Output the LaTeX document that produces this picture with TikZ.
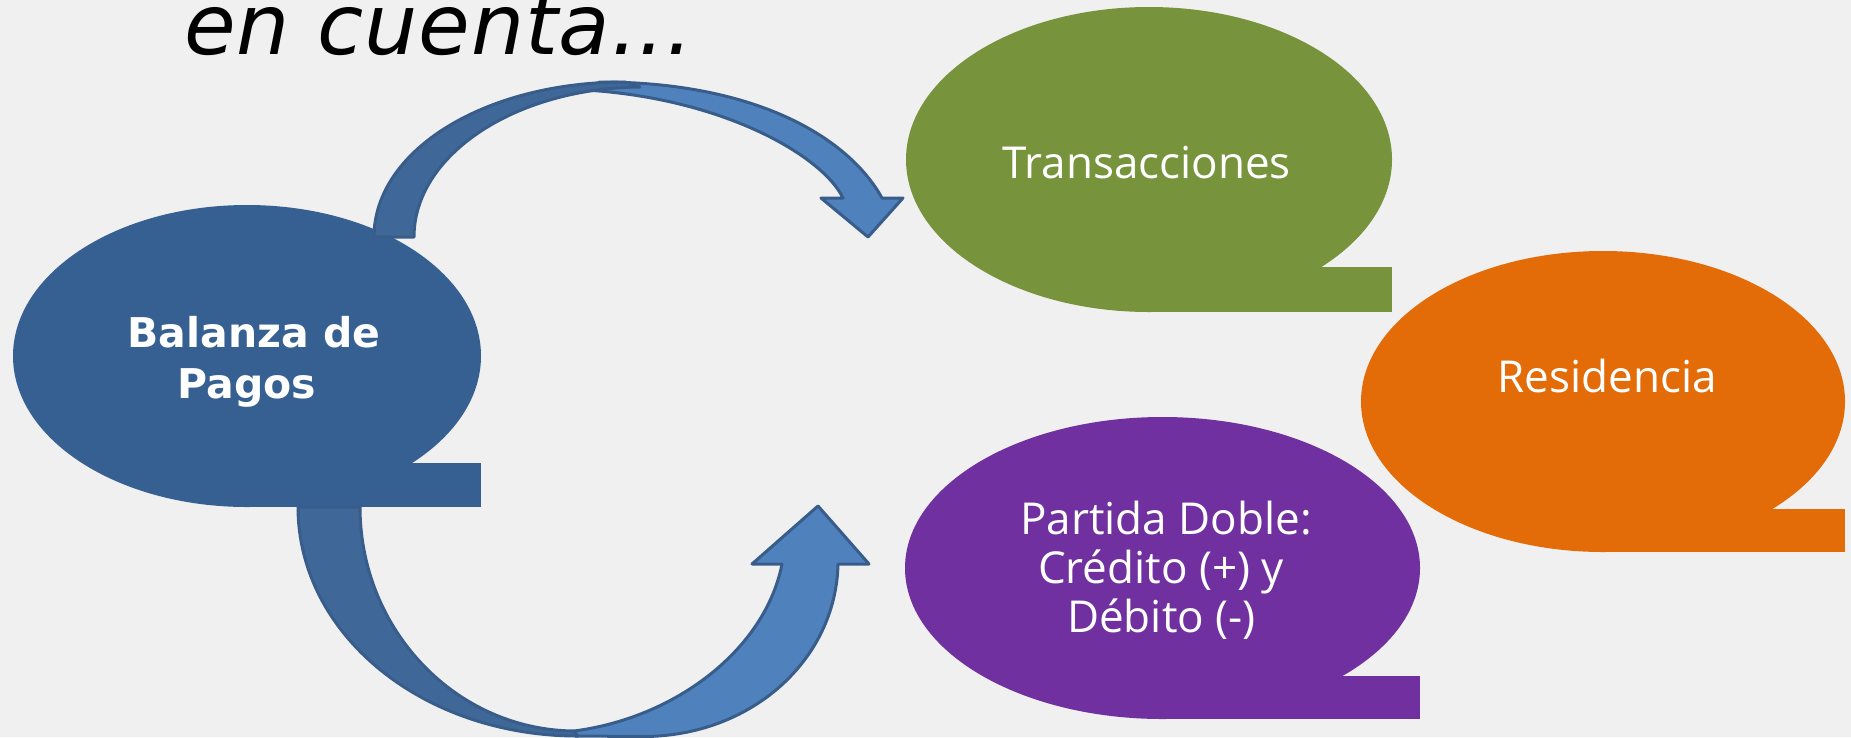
\documentclass[tikz,border=0pt]{standalone}
\usepackage{fontspec}
\usepackage{graphicx}
\setmainfont{Open Sans}
\newfontfamily\dejavu{DejaVu Sans}
\newfontfamily\titlefont[LetterSpace=1]{DejaVu Sans}
\definecolor{balblue}{RGB}{55,96,146}
\definecolor{trgreen}{RGB}{119,147,60}
\definecolor{resorange}{RGB}{227,108,9}
\definecolor{parpurple}{RGB}{112,48,160}
\definecolor{arrfront}{RGB}{79,129,189}
\definecolor{arrback}{RGB}{63,104,153}
\definecolor{arrline}{RGB}{56,93,138}
\definecolor{bgcol}{RGB}{240,240,240}
\begin{document}
\begin{tikzpicture}[x=1pt,y=-1pt,
  bubtext/.style={text=white, inner sep=0pt, anchor=base, font=\fontsize{44}{50}\selectfont},
  baltext/.style={text=white, inner sep=0pt, anchor=base, font=\dejavu\bfseries\fontsize{41}{51}\selectfont},
  arrowband/.style={draw=arrline, line width=3pt, line join=round}]
\useasboundingbox (0,0) rectangle (1851,737);
\fill[bgcol] (0,0) rectangle (1851,737);
% title (cut by the top edge, as in the reference)
\begin{scope}
\clip (0,0) rectangle (1851,737);
\node[anchor=base west, inner sep=0pt, font=\titlefont\itshape\fontsize{84}{90}\selectfont] (title) at (184,54) {en cuenta...};
\end{scope}
% Balanza de Pagos
\fill[balblue] (247,356) ellipse [x radius=234, y radius=151];
\fill[balblue] (247,463) rectangle (481,507);
\node[baltext] (bal1) at (254,347) {Balanza de};
\node[baltext] (bal2) at (247,398) {Pagos};
% Transacciones
\fill[trgreen] (1149,159.5) ellipse [x radius=243, y radius=152.5];
\fill[trgreen] (1149,267) rectangle (1392,312);
\node[bubtext] (trans) at (1146.5,178) {Transacciones};
% Residencia
\fill[resorange] (1603,401.5) ellipse [x radius=242, y radius=150.5];
\fill[resorange] (1603,509) rectangle (1845,552);
\node[bubtext] (resid) at (1607,392) {Residencia};
% Partida Doble
\fill[parpurple] (1162.5,568) ellipse [x radius=257.5, y radius=151];
\fill[parpurple] (1162.5,676) rectangle (1420,719);
\node[bubtext] (par1) at (1166,534) {Partida Doble:};
\node[bubtext] (par2) at (1161,583) {Crédito (+) y};
\node[bubtext] (par3) at (1161.5,632) {Débito (-)};
% top curved arrow
\coordinate (ta0) at (374,237);
\coordinate (ta1) at (414,237);
\path[arrowband, fill=arrfront] (585,90) -- (600,82) .. controls (760,82) and (850,140) .. (882,198) -- (903,198) -- (868,237) -- (821,198) -- (843,198) .. controls (822,155) and (722,98) .. (585,90) -- cycle;
\path[arrowband, fill=arrback] (ta0) .. controls (374,151) and (484,82) .. (625,82) -- (640,87) .. controls (515,88) and (414,155) .. (ta1) -- cycle;
% bottom curved arrow
\coordinate (ba0) at (298,507);
\coordinate (ba1) at (360,507);
\path[arrowband, fill=arrfront] (574,731) -- (575,736) -- (643,736.5) .. controls (751,736.5) and (836,660) .. (838,564) -- (869,564) -- (818,506) -- (752,564) -- (782,564) .. controls (765,650) and (675,718) .. (574,731) -- cycle;
\path[arrowband, fill=arrback] (ba0) .. controls (298,634) and (422,736) .. (578,736) -- (574,731) .. controls (456,730) and (360,630) .. (ba1) -- cycle;
\end{tikzpicture}
\end{document}
